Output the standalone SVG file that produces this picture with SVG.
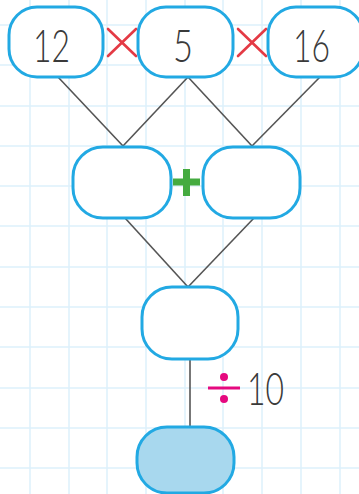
<svg xmlns="http://www.w3.org/2000/svg" width="359" height="494" viewBox="0 0 359 494">
<style>
.grid line{stroke:#dcf0fb;stroke-width:1.5}
.box{fill:#fff;stroke:#22a9e3;stroke-width:3}
.fill{fill:#a8d8ee}
.conn line{stroke:#555;stroke-width:1.6}
.num{font-family:Lato,"Open Sans","Liberation Sans",sans-serif;font-weight:300;font-size:46px;fill:#3a3a3a}
.times{stroke:#e43a45;stroke-width:2.6;stroke-linecap:round}
</style>
<rect width="359" height="494" fill="#fff"/>
<g class="grid">
<line x1="30" y1="0" x2="30" y2="494"/>
<line x1="69" y1="0" x2="69" y2="494"/>
<line x1="107" y1="0" x2="107" y2="494"/>
<line x1="146" y1="0" x2="146" y2="494"/>
<line x1="185" y1="0" x2="185" y2="494"/>
<line x1="223" y1="0" x2="223" y2="494"/>
<line x1="262" y1="0" x2="262" y2="494"/>
<line x1="301" y1="0" x2="301" y2="494"/>
<line x1="340" y1="0" x2="340" y2="494"/>
<line x1="0" y1="25" x2="359" y2="25"/>
<line x1="0" y1="65" x2="359" y2="65"/>
<line x1="0" y1="106" x2="359" y2="106"/>
<line x1="0" y1="146" x2="359" y2="146"/>
<line x1="0" y1="186" x2="359" y2="186"/>
<line x1="0" y1="226" x2="359" y2="226"/>
<line x1="0" y1="267" x2="359" y2="267"/>
<line x1="0" y1="307" x2="359" y2="307"/>
<line x1="0" y1="347" x2="359" y2="347"/>
<line x1="0" y1="388" x2="359" y2="388"/>
<line x1="0" y1="428" x2="359" y2="428"/>
<line x1="0" y1="468" x2="359" y2="468"/>
</g>
<g id="connectors" class="conn">
<line x1="58" y1="77" x2="123" y2="146"/>
<line x1="188" y1="77" x2="123" y2="146"/>
<line x1="188" y1="77" x2="252" y2="146"/>
<line x1="320" y1="77" x2="252" y2="146"/>
<line x1="125" y1="218" x2="188" y2="287"/>
<line x1="254" y1="218" x2="188" y2="287"/>
<line x1="190" y1="359" x2="190" y2="427"/>
</g>
<g id="n12">
<rect class="box" x="9" y="7" width="94" height="70" rx="28"/>
<text class="num" x="33" y="62" textLength="37" lengthAdjust="spacingAndGlyphs">12</text>
</g>
<g id="op-times1">
<line class="times" x1="108" y1="29" x2="136" y2="56"/>
<line class="times" x1="136" y1="29" x2="108" y2="56"/>
</g>
<g id="n5">
<rect class="box" x="138" y="7" width="95" height="70" rx="28"/>
<text class="num" x="173" y="62" textLength="20" lengthAdjust="spacingAndGlyphs">5</text>
</g>
<g id="op-times2">
<line class="times" x1="238" y1="29" x2="266" y2="56"/>
<line class="times" x1="266" y1="29" x2="238" y2="56"/>
</g>
<g id="n16">
<rect class="box" x="268" y="7" width="95" height="70" rx="28"/>
<text class="num" x="293" y="62" textLength="37" lengthAdjust="spacingAndGlyphs">16</text>
</g>
<g id="sumL">
<rect class="box" x="73" y="147" width="98" height="71" rx="30"/>
</g>
<g id="op-plus">
<line x1="173" y1="182" x2="200" y2="182" stroke="#45ab40" stroke-width="7"/>
<line x1="186.5" y1="169" x2="186.5" y2="196" stroke="#45ab40" stroke-width="7"/>
</g>
<g id="sumR">
<rect class="box" x="203" y="147" width="97" height="71" rx="30"/>
</g>
<g id="total">
<rect class="box" x="142" y="287" width="96" height="72" rx="30"/>
</g>
<g id="op-div">
<line x1="208" y1="388" x2="240" y2="388" stroke="#e5097f" stroke-width="3"/>
<circle cx="224" cy="377" r="4" fill="#e5097f"/>
<circle cx="224" cy="399" r="4" fill="#e5097f"/>
<text class="num" x="247" y="405" textLength="37" lengthAdjust="spacingAndGlyphs">10</text>
</g>
<g id="result">
<rect class="box fill" x="137" y="427" width="97" height="66" rx="30"/>
</g>
</svg>
